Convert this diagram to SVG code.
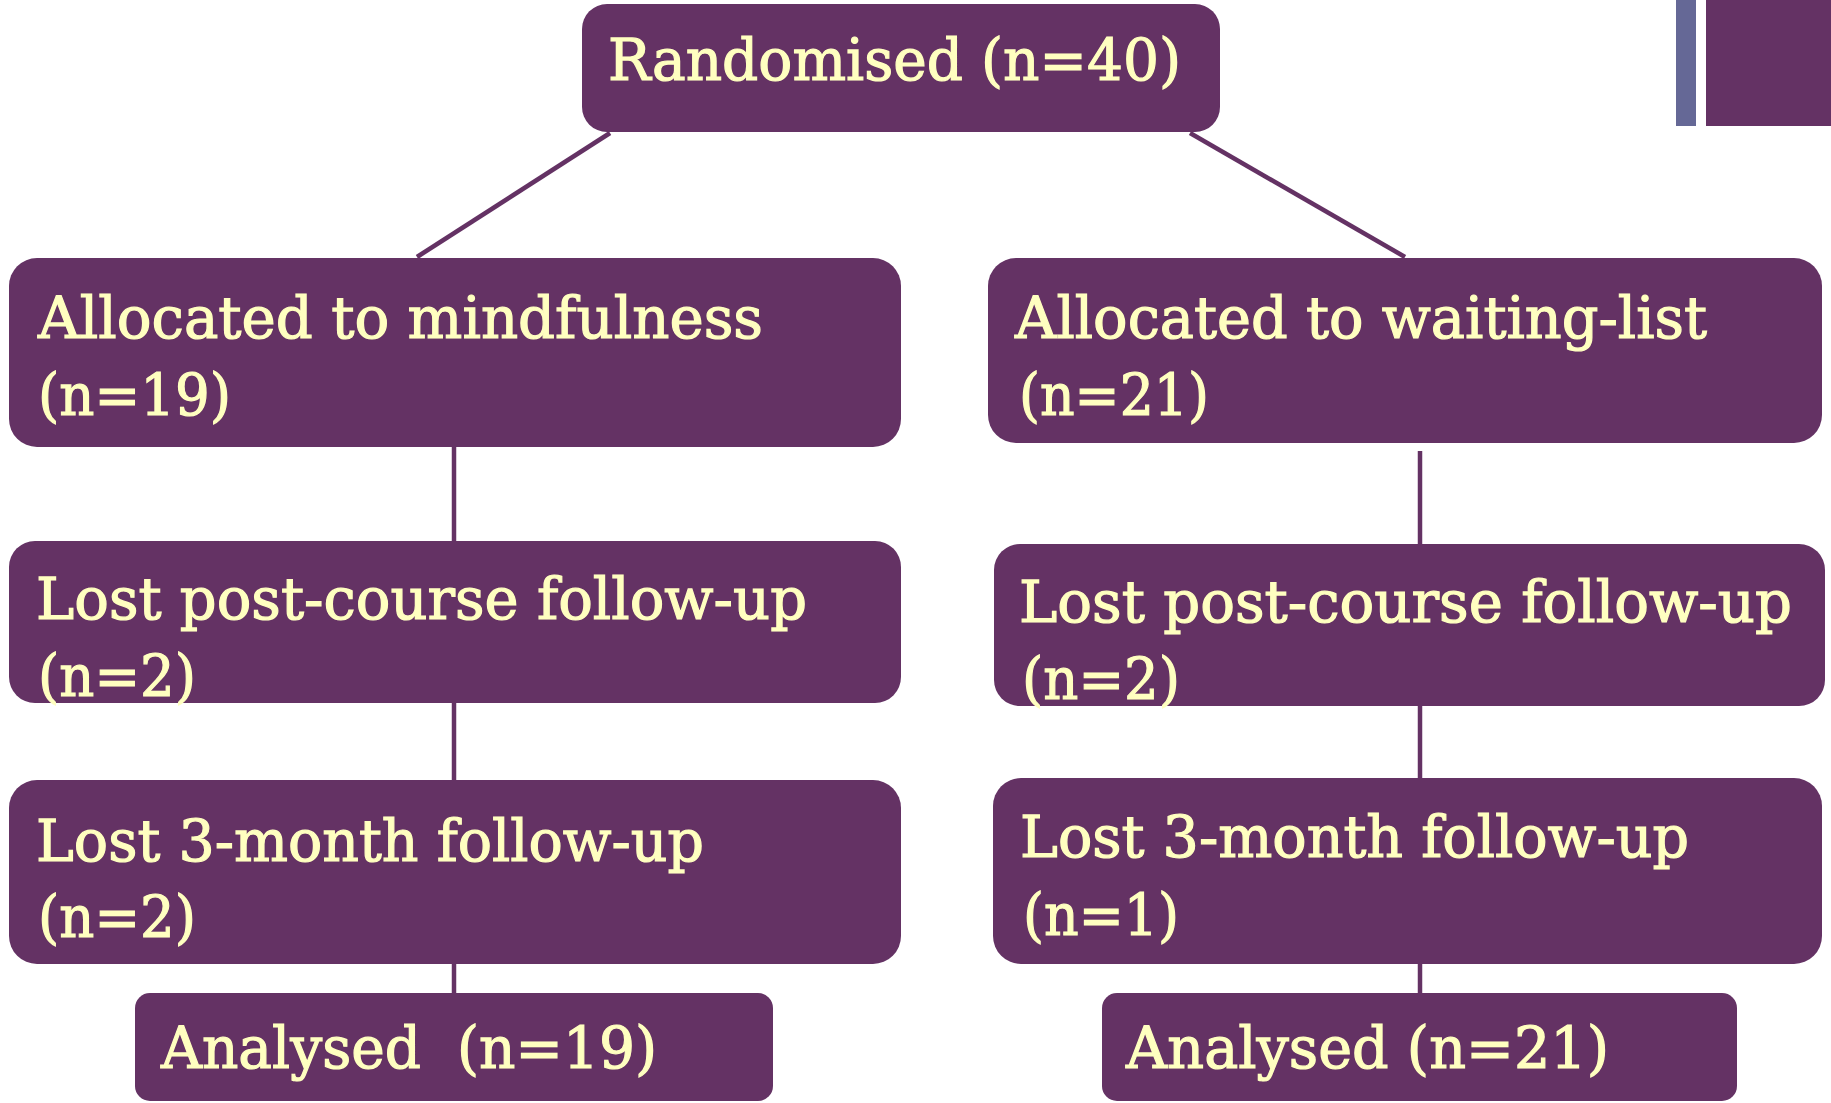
<svg xmlns="http://www.w3.org/2000/svg" width="1831" height="1103" viewBox="0 0 1831 1103">
<style>
.box{fill:#643264;}
.t{font-family:"DejaVu Serif","Liberation Serif",serif;font-size:58px;fill:#FFFFC0;stroke:#FFFFC0;stroke-width:1.2;}
.c{stroke:#643264;stroke-width:4.5;fill:none;}
</style>
<rect width="1831" height="1103" fill="#ffffff"/>
<g id="decor">
<rect x="1676" y="0" width="20" height="126" fill="#656896"/>
<rect x="1706" y="0" width="125" height="126" fill="#643264"/>
</g>
<g id="connectors">
<line class="c" x1="610" y1="133" x2="417" y2="257"/>
<line class="c" x1="1190" y1="133" x2="1405" y2="257"/>
<line class="c" x1="454" y1="447" x2="454" y2="541"/>
<line class="c" x1="454" y1="703" x2="454" y2="780"/>
<line class="c" x1="454" y1="964" x2="454" y2="993"/>
<line class="c" x1="1420" y1="451" x2="1420" y2="544"/>
<line class="c" x1="1420" y1="706" x2="1420" y2="778"/>
<line class="c" x1="1420" y1="964" x2="1420" y2="993"/>
</g>
<g id="randomised">
<rect class="box" x="582" y="4" width="638" height="128" rx="25"/>
<text class="t" x="608" y="80" textLength="573" lengthAdjust="spacingAndGlyphs">Randomised (n=40)</text>
</g>
<g id="alloc-mind">
<rect class="box" x="9" y="258" width="892" height="189" rx="28"/>
<text class="t" x="38" y="338" textLength="725" lengthAdjust="spacingAndGlyphs">Allocated to mindfulness</text>
<text class="t" x="38" y="415" textLength="193" lengthAdjust="spacingAndGlyphs">(n=19)</text>
</g>
<g id="alloc-wait">
<rect class="box" x="988" y="258" width="834" height="185" rx="28"/>
<text class="t" x="1015" y="338" textLength="692" lengthAdjust="spacingAndGlyphs">Allocated to waiting-list</text>
<text class="t" x="1019" y="415" textLength="190" lengthAdjust="spacingAndGlyphs">(n=21)</text>
</g>
<g id="lost-post-mind">
<rect class="box" x="9" y="541" width="892" height="162" rx="26"/>
<text class="t" x="36" y="619" textLength="771" lengthAdjust="spacingAndGlyphs">Lost post-course follow-up</text>
<text class="t" x="38" y="696" textLength="158" lengthAdjust="spacingAndGlyphs">(n=2)</text>
</g>
<g id="lost-post-wait">
<rect class="box" x="994" y="544" width="831" height="162" rx="26"/>
<text class="t" x="1019" y="622" textLength="773" lengthAdjust="spacingAndGlyphs">Lost post-course follow-up</text>
<text class="t" x="1022" y="699" textLength="158" lengthAdjust="spacingAndGlyphs">(n=2)</text>
</g>
<g id="lost-3m-mind">
<rect class="box" x="9" y="780" width="892" height="184" rx="28"/>
<text class="t" x="36" y="861" textLength="668" lengthAdjust="spacingAndGlyphs">Lost 3-month follow-up</text>
<text class="t" x="38" y="937" textLength="158" lengthAdjust="spacingAndGlyphs">(n=2)</text>
</g>
<g id="lost-3m-wait">
<rect class="box" x="993" y="778" width="829" height="186" rx="28"/>
<text class="t" x="1020" y="857" textLength="669" lengthAdjust="spacingAndGlyphs">Lost 3-month follow-up</text>
<text class="t" x="1023" y="935" textLength="156" lengthAdjust="spacingAndGlyphs">(n=1)</text>
</g>
<g id="analysed-mind">
<rect class="box" x="135" y="993" width="638" height="108" rx="15"/>
<text class="t" x="161" y="1068" textLength="496" lengthAdjust="spacingAndGlyphs" xml:space="preserve">Analysed  (n=19)</text>
</g>
<g id="analysed-wait">
<rect class="box" x="1102" y="993" width="635" height="108" rx="15"/>
<text class="t" x="1126" y="1068" textLength="483" lengthAdjust="spacingAndGlyphs">Analysed (n=21)</text>
</g>
</svg>
